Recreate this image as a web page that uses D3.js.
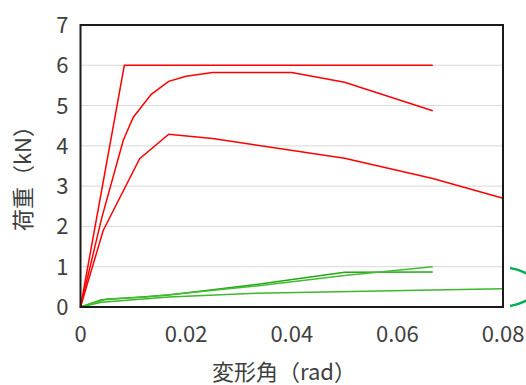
<!DOCTYPE html>
<meta charset="utf-8">
<style>
body { margin: 0; background: #fff; }
text { font-family: "Noto Sans CJK JP", "Noto Sans", sans-serif; fill: #404040; }
.grid line { stroke: #d9d9d9; stroke-width: 1; }
.red { fill: none; stroke: #ff0000; stroke-width: 1.5; }
.green { fill: none; stroke-width: 1.5; }
</style>
<body>
<script src="https://d3js.org/d3.v7.min.js"></script>
<script>

// data: [変形角 rad, 荷重 kN]
var redElastic = [[0, 0], [0.0083, 6], [0.0667, 6]];
var redCurve   = [[0, 0], [0.004, 2.2], [0.0081, 4.14], [0.01, 4.71], [0.0134, 5.28], [0.0167, 5.6],
                  [0.02, 5.73], [0.025, 5.82], [0.04, 5.82], [0.05, 5.58], [0.0667, 4.87]];
var redLow     = [[0, 0], [0.0043, 1.9], [0.0112, 3.68], [0.0167, 4.29], [0.025, 4.18],
                  [0.05, 3.69], [0.0667, 3.19], [0.08, 2.7]];
var greenA     = [[0, 0], [0.004, 0.18], [0.0083, 0.22], [0.0167, 0.3], [0.0333, 0.56], [0.05, 0.86], [0.0667, 0.87]];
var greenB     = [[0, 0], [0.005, 0.2], [0.0125, 0.25], [0.0333, 0.52], [0.05, 0.78], [0.0667, 1.0]];
var greenC     = [[0, 0], [0.004, 0.12], [0.0167, 0.25], [0.0333, 0.34], [0.0667, 0.42], [0.08, 0.45]];

var xTicks = [0, 0.02, 0.04, 0.06, 0.08];
var yTicks = [0, 1, 2, 3, 4, 5, 6, 7];

var W = 526, H = 385;
var margin = {top: 25, right: 23, bottom: 78, left: 80.5},
    width = W - margin.left - margin.right,
    height = H - margin.top - margin.bottom;

var svg = d3.select("body").append("svg")
    .attr("width", W)
    .attr("height", H);

// annotation ellipse sitting behind the plot, only its right edge shows
svg.append("clipPath").attr("id", "arcclip")
  .append("rect").attr("x", 510).attr("y", 0).attr("width", 40).attr("height", H);
svg.append("ellipse")
    .attr("clip-path", "url(#arcclip)")
    .attr("cx", 497).attr("cy", 287).attr("rx", 40).attr("ry", 20)
    .attr("fill", "none").attr("stroke", "#00b050").attr("stroke-width", 2.5);

var g = svg.append("g")
    .attr("transform", "translate(" + margin.left + "," + margin.top + ")");

var x = d3.scaleLinear().domain([0, 0.08]).range([0, width]);
var y = d3.scaleLinear().domain([0, 7]).range([height, 0]);

g.append("rect")
    .attr("width", width).attr("height", height)
    .attr("fill", "#fff");

g.append("g").attr("class", "grid")
  .selectAll("line")
  .data(yTicks.slice(1, -1))
  .enter().append("line")
    .attr("x1", 0).attr("x2", width)
    .attr("y1", function(d) { return y(d); })
    .attr("y2", function(d) { return y(d); });

var line = d3.line()
    .x(function(d) { return x(d[0]); })
    .y(function(d) { return y(d[1]); });

var greens = [greenC, greenA, greenB];
var greenCols = ["#3cb82a", "#22a812", "#44bb33"];
g.selectAll("path.green")
    .data(greens)
  .enter().append("path")
    .attr("class", "green")
    .attr("stroke", function(d, i) { return greenCols[i]; })
    .attr("d", line);

g.selectAll("path.red")
    .data([redLow, redCurve, redElastic])
  .enter().append("path")
    .attr("class", "red")
    .attr("d", line);

// plot border
g.append("rect")
    .attr("width", width).attr("height", height)
    .attr("fill", "none")
    .attr("stroke", "#1a1a1a")
    .attr("stroke-width", 2);

var fmt = function(d) { return d === 0 ? "0" : d3.format(".2f")(d); };

g.append("g")
  .selectAll("text")
  .data(xTicks)
  .enter().append("text")
    .attr("x", function(d) { return x(d); })
    .attr("y", height + 35)
    .attr("text-anchor", "middle")
    .attr("font-size", 22)
    .text(fmt);

g.append("g")
  .selectAll("text")
  .data(yTicks)
  .enter().append("text")
    .attr("x", -12)
    .attr("y", function(d) { return y(d) + 8; })
    .attr("text-anchor", "end")
    .attr("font-size", 22)
    .text(function(d) { return d; });

svg.append("text")
    .attr("x", 284)
    .attr("y", 380)
    .attr("text-anchor", "middle")
    .attr("font-size", 22)
    .text("変形角（rad）");

svg.append("text")
    .attr("transform", "translate(31,173) rotate(-90)")
    .attr("text-anchor", "middle")
    .attr("font-size", 22)
    .text("荷重（kN）");

</script>
